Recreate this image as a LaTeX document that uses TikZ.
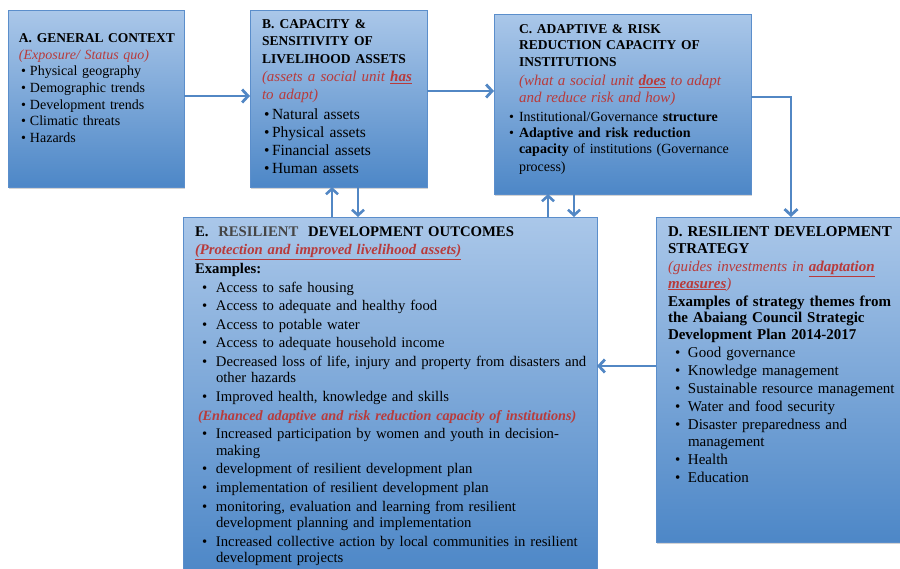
\documentclass[tikz,border=0pt]{standalone}
\usepackage{fontspec}
\setmainfont{Liberation Serif}
\usetikzlibrary{arrows.meta,shadows,calc}
\definecolor{boxtop}{HTML}{AAC7E9}
\definecolor{boxbot}{HTML}{4D87C7}
\definecolor{boxline}{HTML}{5B8ECB}
\definecolor{arr}{HTML}{5287C4}
\definecolor{redt}{HTML}{B83B3B}
\definecolor{greyt}{HTML}{454545}
\setlength{\parindent}{0pt}
\newcommand\bitem[3]{\par\noindent\hangindent=#2\hangafter=1\hbox to #2{\hspace*{#1}\textbullet\hfil}#3}
\newcommand\litem[2]{\par\noindent\llap{\hbox to #1{\textbullet\hfil}}#2}
\tikzset{
 box/.style={draw=boxline, line width=0.6pt, top color=boxtop, bottom color=boxbot,
   drop shadow={shadow xshift=1.2pt, shadow yshift=-1.8pt, opacity=0.35},
   anchor=north west, inner sep=0pt, outer sep=0pt},
 txt/.style={anchor=north west, inner sep=0pt, outer sep=0pt, align=left},
 flow/.style={draw=arr, line width=2.8pt, -{Straight Barb[length=6pt,width=13pt]}},
 short/.style={draw=arr, line width=2.6pt, -{Straight Barb[length=5.5pt,width=12pt]}}
}
\begin{document}
\begin{tikzpicture}[x=1pt,y=-1pt]
\useasboundingbox (0,0) rectangle (900,568);
% boxes
\node[box, minimum width=176pt, minimum height=177pt] (A) at (8,10) {};
\node[box, minimum width=177pt, minimum height=177pt] (B) at (250,10) {};
\node[box, minimum width=257pt, minimum height=180pt] (C) at (494,14) {};
\node[box, minimum width=414pt, minimum height=356pt] (E) at (183,217) {};
\node[box, minimum width=248pt, minimum height=325pt] (D) at (656,217) {};
% connectors
\draw[flow] ($(A.north east)+(0,86)$) -- ($(B.north west)+(0,86)$);
\draw[flow] ($(B.north east)+(0,81)$) -- ($(C.north west)+(0,77)$);
\draw[flow] ($(C.north east)+(0,83)$) -| ($(D.north west)+(135,0)$);
\draw[flow] ($(D.north west)+(0,149)$) -- ($(E.north east)+(0,149)$);
\draw[short] ($(E.north west)+(149,0)$) -- ($(B.south west)+(82,0)$);
\draw[short] ($(B.south west)+(108,0)$) -- ($(E.north west)+(175,0)$);
\draw[short] ($(E.north west)+(365,0)$) -- ($(C.south west)+(54,0)$);
\draw[short] ($(C.south west)+(80,0)$) -- ($(E.north west)+(391,0)$);
% texts
\node[txt, text width=165pt, font=\fontsize{14}{16.7}\selectfont] (At) at (19,33.5) {%
{\fontsize{13.5}{16.7}\selectfont\textbf{A. GENERAL CONTEXT}\par}
{\color{redt}\itshape (Exposure/ Status quo)\par}
\bitem{2pt}{11pt}{Physical geography}
\bitem{2pt}{11pt}{Demographic trends}
\bitem{2pt}{11pt}{Development trends}
\bitem{2pt}{11pt}{Climatic threats}
\bitem{2pt}{11pt}{Hazards}\par};
\node[txt, text width=165pt, font=\fontsize{15.5}{18}\selectfont] (Bt) at (262,19.5) {%
{\fontsize{13.5}{17.5}\selectfont\textbf{B. CAPACITY \&\\SENSITIVITY OF\\LIVELIHOOD ASSETS}\par}
{\fontsize{15}{18}\selectfont\color{redt}\itshape (assets a social unit \underline{\textbf{has}}\\to adapt)\par}
\vspace{2pt}
\bitem{2pt}{10pt}{Natural assets}
\bitem{2pt}{10pt}{Physical assets}
\bitem{2pt}{10pt}{Financial assets}
\bitem{2pt}{10pt}{Human assets}\par};
\node[txt, text width=230pt, font=\fontsize{14}{16}\selectfont] (Ct) at (519,24.5) {%
{\fontsize{13.5}{16.5}\selectfont\textbf{C. ADAPTIVE \& RISK\\REDUCTION CAPACITY OF\\INSTITUTIONS}\par}
\vspace{3pt}
{\fontsize{15}{16.5}\selectfont\color{redt}\itshape (what a social unit \underline{\textbf{does}} to adapt\\and reduce risk and how)\par}
\vspace{3pt}
\litem{10pt}{Institutional/Governance \textbf{structure}}
\litem{10pt}{\textbf{Adaptive and risk reduction}\\\textbf{capacity} of institutions (Governance\\[2pt]process)}\par};
\node[txt, text width=400pt, font=\fontsize{14.7}{16.5}\selectfont] (Et) at (195,226.5) {%
\setlength{\parskip}{2.1pt}%
\textbf{E.\ \ {\color{greyt}RESILIENT}\ \ DEVELOPMENT OUTCOMES}\par
{\color{redt}\underline{\textbf{\textit{(Protection and improved livelihood assets)}}}}\par
\textbf{Examples:}
\bitem{7pt}{21pt}{Access to safe housing}
\bitem{7pt}{21pt}{Access to adequate and healthy food}
\bitem{7pt}{21pt}{Access to potable water}
\bitem{7pt}{21pt}{Access to adequate household income}
\bitem{7pt}{21pt}{Decreased loss of life, injury and property from disasters and\newline other hazards}
\bitem{7pt}{21pt}{Improved health, knowledge and skills}
\par\hspace*{3pt}\mbox{\fontsize{14.2}{16.5}\selectfont\color{redt}\textbf{\textit{(Enhanced adaptive and risk reduction capacity of institutions)}}}
\bitem{7pt}{21pt}{Increased participation by women and youth in decision-\newline making}
\bitem{7pt}{21pt}{development of resilient development plan}
\bitem{7pt}{21pt}{implementation of resilient development plan}
\bitem{7pt}{21pt}{monitoring, evaluation and learning from resilient\newline development planning and implementation}
\bitem{7pt}{21pt}{Increased collective action by local communities in resilient\newline development projects}\par};
\node[txt, text width=236pt, font=\fontsize{15}{16.5}\selectfont] (Dt) at (668,227) {%
\setlength{\parskip}{1.6pt}%
\textbf{D. RESILIENT DEVELOPMENT\\STRATEGY}\par
{\color{redt}\itshape (guides investments in \underline{\textbf{adaptation}}\\\underline{\textbf{measures}})\par}
\textbf{Examples of strategy themes from\\the Abaiang Council Strategic\\Development Plan 2014-2017}
\bitem{7pt}{20pt}{Good governance}
\bitem{7pt}{20pt}{Knowledge management}
\bitem{7pt}{20pt}{Sustainable resource management}
\bitem{7pt}{20pt}{Water and food security}
\bitem{7pt}{20pt}{Disaster preparedness and\newline management}
\bitem{7pt}{20pt}{Health}
\bitem{7pt}{20pt}{Education}\par};
\end{tikzpicture}
\end{document}
